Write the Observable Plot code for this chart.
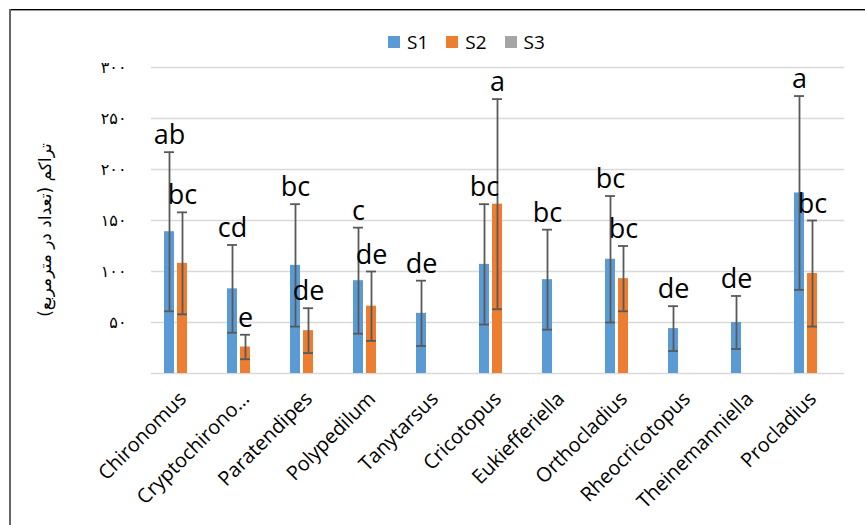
<!DOCTYPE html>
<html>
<head>
<meta charset="utf-8">
<script src="https://cdn.jsdelivr.net/npm/d3@7"></script>
<script src="https://cdn.jsdelivr.net/npm/@observablehq/plot@0.6"></script>
<style>
  body { margin: 0; background: #fff; }
  #wrap { position: relative; width: 865px; height: 525px; overflow: hidden; font-family: "Open Sans", sans-serif; }
  #frameTop { position: absolute; left: 9px; top: 9px; width: 860px; height: 0; border-top: 1px solid #000; border-bottom: 1px solid #999; }
  #frameLeft { position: absolute; left: 9px; top: 9px; width: 2px; height: 520px; background: #666; }
  #legend { position: absolute; top: 29px; left: 388px; display: flex; align-items: center; font-size: 19px; color: #000; }
  #legend .item { display: flex; align-items: center; margin-right: 18px; }
  #legend .sw { width: 12px; height: 12px; margin-right: 7px; }
  #chart { position: absolute; left: 0; top: 0; }
  #ytitle { position: absolute; left: 45px; top: 230px; transform: translate(-50%, -50%) rotate(-90deg); white-space: nowrap; direction: rtl; font-family: "DejaVu Sans", "Noto Sans", sans-serif; font-size: 17px; color: #000; }
</style>
</head>
<body>
<div id="wrap">
  <div id="chart"></div>
  <div id="ytitle"></div>
  <div id="frameTop"></div>
  <div id="frameLeft"></div>
  <div id="legend"></div>
</div>
<script>
const categories = ["Chironomus", "Cryptochirono…", "Paratendipes", "Polypedilum", "Tanytarsus", "Cricotopus", "Eukiefferiella", "Orthocladius", "Rheocricotopus", "Theinemanniella", "Procladius"];
const seriesNames = ["S1", "S2", "S3"];
const seriesColors = ["#5B9BD5", "#ED7D31", "#A5A5A5"];
const s1 = [139, 83, 106, 91, 59, 107, 92, 112, 44, 50, 177];
const s1Err = [78, 43, 60, 52, 32, 59, 49, 62, 22, 26, 95];
const s1Letters = ["ab", "cd", "bc", "c", "de", "bc", "bc", "bc", "de", "de", "a"];
const s2 = [108, 26, 42, 66, 0, 166, 0, 93, 0, 0, 98];
const s2Err = [50, 12, 22, 34, 0, 103, 0, 32, 0, 0, 52];
const s2Letters = ["bc", "e", "de", "de", "", "a", "", "bc", "", "", "bc"];
const s3 = [0, 0, 0, 0, 0, 0, 0, 0, 0, 0, 0];
const yTicks = [0, 50, 100, 150, 200, 250, 300];
const yTitle = "تراکم (تعداد در مترمربع)";

const rows = [];
categories.forEach((c, i) => {
  rows.push({cat: c, s: "S1", v: s1[i], e: s1Err[i], l: s1Letters[i]});
  rows.push({cat: c, s: "S2", v: s2[i], e: s2Err[i], l: s2Letters[i]});
  rows.push({cat: c, s: "S3", v: s3[i], e: 0, l: ""});
});
const errRows = rows.filter(d => d.e > 0);
const letterRows = rows.filter(d => d.l);

const persian = n => n === 0 ? "" : String(n).replace(/\d/g, d => "۰۱۲۳۴۵۶۷۸۹"[d]);

const chart = Plot.plot({
  width: 865,
  height: 525,
  marginLeft: 150,
  marginRight: 20,
  marginTop: 67,
  marginBottom: 152,
  style: {fontFamily: "Open Sans, sans-serif", background: "transparent", color: "#000"},
  fx: {domain: categories, paddingInner: 0, paddingOuter: 0, label: null},
  x: {domain: seriesNames, axis: null, paddingInner: 0.2, paddingOuter: 0.86},
  y: {domain: [0, 300], label: null},
  color: {domain: seriesNames, range: seriesColors},
  marks: [
    Plot.ruleY(yTicks, {stroke: "#d9d9d9", strokeWidth: 1.5}),
    Plot.axisY({ticks: yTicks, tickFormat: persian, tickSize: 0, tickPadding: 25, fontSize: 16, label: null, fill: "#000", fontFamily: "DejaVu Sans, sans-serif"}),
    Plot.axisFx({anchor: "bottom", tickRotate: -45, tickSize: 0, tickPadding: 22, fontSize: 20, label: null, fill: "#000"}),
    Plot.barY(rows, {fx: "cat", x: "s", y: "v", fill: "s"}),
    Plot.ruleX(errRows, {fx: "cat", x: "s", y1: d => d.v - d.e, y2: d => d.v + d.e, stroke: "#595959", strokeWidth: 1.8}),
    Plot.tickY(errRows, {fx: "cat", x: "s", y: d => d.v + d.e, stroke: "#595959", strokeWidth: 1.8}),
    Plot.tickY(errRows, {fx: "cat", x: "s", y: d => d.v - d.e, stroke: "#595959", strokeWidth: 1.8}),
    Plot.text(letterRows, {fx: "cat", x: "s", y: d => d.v + d.e, text: "l", dy: -8, lineAnchor: "bottom", fontSize: 27, fill: "#000"})
  ]
});
document.getElementById("chart").appendChild(chart);
document.getElementById("ytitle").textContent = yTitle;

const legend = document.getElementById("legend");
seriesNames.forEach((s, i) => {
  const item = document.createElement("div");
  item.className = "item";
  const sw = document.createElement("div");
  sw.className = "sw";
  sw.style.background = seriesColors[i];
  const t = document.createElement("span");
  t.textContent = s;
  item.appendChild(sw);
  item.appendChild(t);
  legend.appendChild(item);
});
</script>
</body>
</html>
